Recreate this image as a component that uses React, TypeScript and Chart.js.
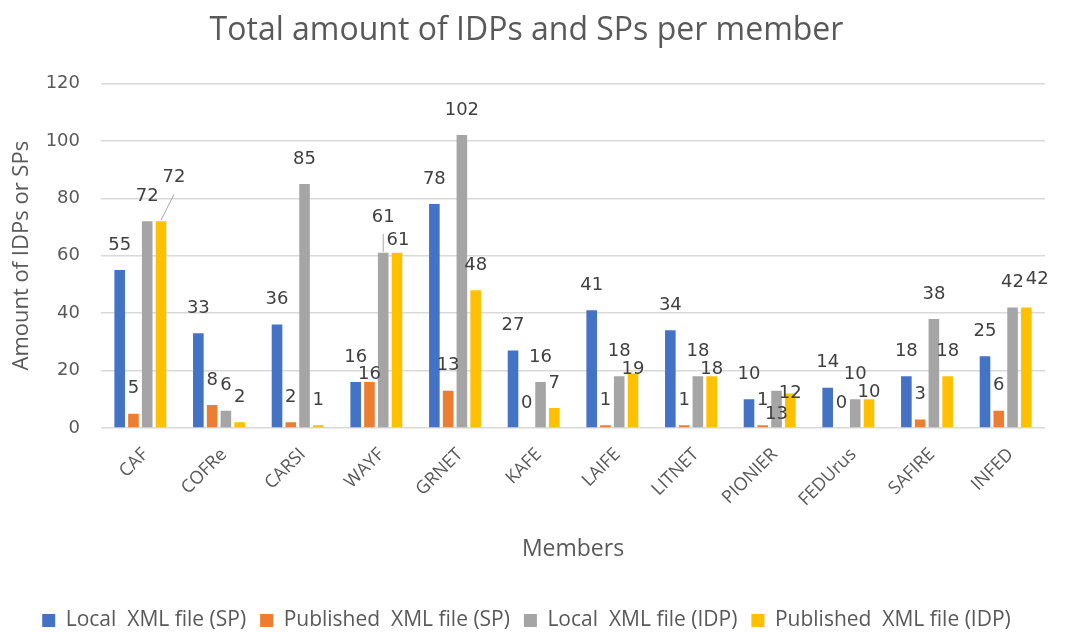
import React, { useEffect, useRef } from "react";
import { Chart, registerables } from "chart.js";

Chart.register(...registerables);

const categories = ["CAF", "COFRe", "CARSI", "WAYF", "GRNET", "KAFE", "LAIFE", "LITNET", "PIONIER", "FEDUrus", "SAFIRE", "INFED"];
const localSP = [55, 33, 36, 16, 78, 27, 41, 34, 10, 14, 18, 25];
const publishedSP = [5, 8, 2, 16, 13, 0, 1, 1, 1, 0, 3, 6];
const localIDP = [72, 6, 85, 61, 102, 16, 18, 18, 13, 10, 38, 42];
const publishedIDP = [72, 2, 1, 61, 48, 7, 19, 18, 12, 10, 18, 42];
const seriesNames = ["Local  XML file (SP)", "Published  XML file (SP)", "Local  XML file (IDP)", "Published  XML file (IDP)"];
const seriesColors = ["#4472C4", "#ED7D31", "#A5A5A5", "#FFC000"];
const yTickValues = [0, 20, 40, 60, 80, 100, 120];

// label placement tweaks (series-index -> [dx, dy, leaderLine])
const labelNudges: Record<string, [number, number, boolean]> = {
  "3-0": [13, -19, true],
  "2-3": [0, -11, true],
  "3-3": [1, 12, false],
  "1-3": [0, 17, false],
  "3-6": [0, 21, false],
  "3-7": [0, 18, false],
  "2-8": [0, 49, false],
  "3-8": [0, 25, false],
  "3-9": [0, 18, false],
  "3-11": [11, -3, false],
};

const FONT = "'Open Sans', 'Noto Sans', sans-serif";
const NUMFONT = "'DejaVu Sans', 'Open Sans', sans-serif";
const TEXT = "#595959";

const labelPlugin = {
  id: "barLabels",
  afterDatasetsDraw(chart: any) {
    const ctx = chart.ctx;
    ctx.save();
    ctx.font = `18px ${NUMFONT}`;
    ctx.fillStyle = "#404040";
    ctx.textAlign = "center";
    ctx.textBaseline = "middle";
    chart.data.datasets.forEach((ds: any, di: number) => {
      const meta = chart.getDatasetMeta(di);
      meta.data.forEach((bar: any, i: number) => {
        const v = ds.data[i];
        const nudge = labelNudges[`${di}-${i}`] || [0, 0, false];
        const lx = bar.x + nudge[0];
        const ly = bar.y - 25 + nudge[1];
        if (nudge[2]) {
          ctx.save();
          ctx.strokeStyle = "#A6A6A6";
          ctx.lineWidth = 1;
          ctx.beginPath();
          ctx.moveTo(lx, ly + 17);
          ctx.lineTo(bar.x, bar.y - 1);
          ctx.stroke();
          ctx.restore();
        }
        ctx.fillText(String(v), lx, ly);
      });
    });
    ctx.restore();
  },
};

export default function App() {
  const canvasRef = useRef<HTMLCanvasElement | null>(null);

  useEffect(() => {
    document.body.style.margin = "0";
    const canvas = canvasRef.current;
    if (!canvas) return;
    const seriesData = [localSP, publishedSP, localIDP, publishedIDP];
    const chart = new Chart(canvas, {
      type: "bar",
      data: {
        labels: categories,
        datasets: seriesData.map((d, k) => ({
          label: seriesNames[k],
          data: d,
          backgroundColor: seriesColors[k],
          borderWidth: 0,
          categoryPercentage: 0.7,
          barPercentage: 0.77,
        })),
      },
      options: {
        animation: false,
        responsive: false,
        maintainAspectRatio: false,
        layout: { padding: { left: 8, right: 26, top: 0, bottom: -9 } },
        plugins: {
          title: {
            display: true,
            text: "Total amount of IDPs and SPs per member",
            color: TEXT,
            font: { family: FONT, size: 32, weight: "normal" },
            padding: { top: 12, bottom: 33 },
          },
          legend: {
            position: "bottom",
            labels: {
              color: TEXT,
              font: { family: FONT, size: 21 },
              boxWidth: 13,
              boxHeight: 13,
              padding: 14,
            },
          },
          tooltip: { enabled: false },
        },
        scales: {
          x: {
            grid: { display: false },
            border: { display: false },
            ticks: {
              color: TEXT,
              font: { family: FONT, size: 18 },
              minRotation: 45,
              maxRotation: 45,
              padding: 8,
              labelOffset: 5,
            },
            title: {
              display: true,
              text: "Members",
              color: TEXT,
              font: { family: FONT, size: 23 },
              padding: { top: 0, bottom: 33 },
            },
            afterFit: (s: any) => {
              s.height = 168;
            },
          },
          y: {
            min: 0,
            max: 120,
            afterBuildTicks: (s: any) => {
              s.ticks = yTickValues.map((v) => ({ value: v }));
            },
            grid: { color: "#D9D9D9", lineWidth: 1.5, drawTicks: false },
            border: { display: false },
            ticks: {
              color: TEXT,
              font: { family: NUMFONT, size: 18 },
              padding: 21,
            },
            title: {
              display: true,
              text: "Amount of IDPs or SPs",
              color: TEXT,
              font: { family: FONT, size: 22 },
              padding: { top: 1, bottom: 0 },
            },
            afterFit: (s: any) => {
              s.width = 93;
            },
          },
        },
      },
      plugins: [labelPlugin],
    });
    return () => chart.destroy();
  }, []);

  return (
    <div style={{ position: "absolute", left: 0, top: 0, width: 1071, height: 632, background: "#fff" }}>
      <canvas ref={canvasRef} width={1071} height={632} style={{ display: "block" }} />
    </div>
  );
}
